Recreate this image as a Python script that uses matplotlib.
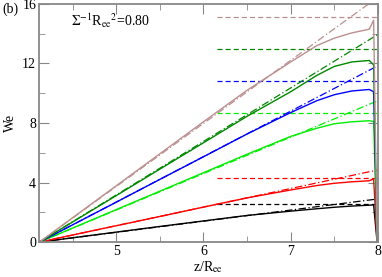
import matplotlib
matplotlib.use('Agg')
import matplotlib.pyplot as plt
from matplotlib.ticker import MultipleLocator

plt.rcParams['font.family'] = 'Liberation Serif'
plt.rcParams['mathtext.fontset'] = 'stix'

# z/Ree positions of the simulated curves
z = [4.12, 5.0, 5.5, 6.0, 6.5, 7.0, 7.3, 7.5, 7.7, 7.9, 7.95, 7.99]

# We(z) for each run (solid lines)
we_black = [0, 0.67, 1.05, 1.42, 1.79, 2.08, 2.24, 2.34, 2.42, 2.48, 2.50, 0]
we_red = [0, 1.10, 1.72, 2.35, 2.97, 3.50, 3.80, 3.95, 4.05, 4.12, 4.25, 0]
we_lime = [0, 2.18, 3.42, 4.66, 5.90, 7.10, 7.65, 7.95, 8.08, 8.15, 8.10, 0]
we_blue = [0, 2.68, 4.21, 5.73, 7.26, 8.70, 9.50, 9.90, 10.15, 10.25, 10.10, 0]
we_dgreen = [0, 3.12, 4.90, 6.67, 8.45, 10.10, 11.20, 11.80, 12.10, 12.20, 11.90, 0]
we_rosy = [0, 3.78, 5.93, 8.08, 10.20, 12.10, 13.20, 13.70, 14.05, 14.30, 14.90, 0]

# linear extrapolation (dash-dot): start and end values
lin_z = [4.12, 8.0]
lin_end = [2.90, 4.85, 9.50, 11.85, 13.95, 16.45]

# asymptotic levels (dashed)
lev_z = [6.15, 8.0]
levels = [2.53, 4.30, 8.65, 10.85, 12.95, 15.15]

colors = ['black', 'red', '#00ee00', 'blue', '#008800', '#bc8f8f']
curves = [we_black, we_red, we_lime, we_blue, we_dgreen, we_rosy]

fig = plt.figure(figsize=(3.82, 2.77), dpi=100)
ax = fig.add_axes([0.102, 0.126, 0.8875, 0.86])

for c, we, e, lv in zip(colors, curves, lin_end, levels):
    ax.plot(z, we, color=c, lw=1.0)
    ax.plot(lin_z, [0, e], color=c, lw=0.9, ls=(0, (6, 2, 1, 2)))
    ax.plot(lev_z, [lv, lv], color=c, lw=0.9, ls=(0, (4, 2.5)))

ax.set_xlim(4.115, 8.0)
ax.set_ylim(0, 16)
ax.xaxis.set_major_locator(MultipleLocator(1))
ax.xaxis.set_minor_locator(MultipleLocator(0.5))
ax.yaxis.set_major_locator(MultipleLocator(4))
ax.yaxis.set_minor_locator(MultipleLocator(2))
ax.tick_params(which='both', direction='in', top=True, right=True,
               color='#888888', labelsize=10, pad=2)
ax.tick_params(which='major', length=7)
ax.tick_params(which='minor', length=4)
for s in ax.spines.values():
    s.set_color('#888888')
    s.set_linewidth(1.3)

ax.set_xlabel(r'z/R$_{\rm ee}$', fontsize=10, labelpad=1)
ax.set_ylabel('We', fontsize=10, labelpad=4)
ax.text(0.095, 0.905, r'$\Sigma^{-1}$R$_{\rm ee}$$^{2}$=0.80', transform=ax.transAxes,
        fontsize=10)
fig.text(0.005, 0.955, '(b)', fontsize=10)

fig.savefig('out.png', dpi=100)
